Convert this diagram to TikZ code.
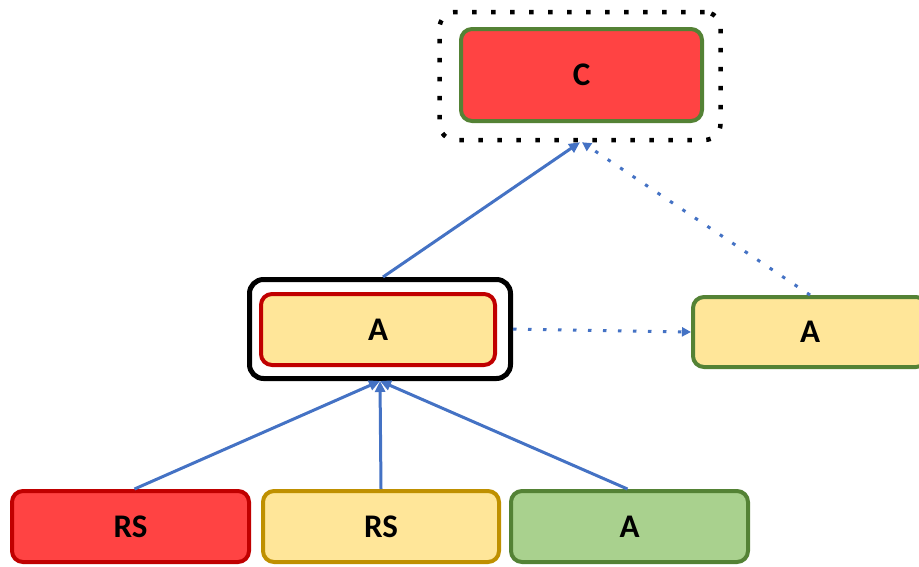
\documentclass[tikz,border=0pt]{standalone}
\usepackage{fontspec}
\setmainfont{Carlito}
\usetikzlibrary{arrows.meta}
\definecolor{cred}{HTML}{FF4343}
\definecolor{cdred}{HTML}{C00000}
\definecolor{cyel}{HTML}{FFE699}
\definecolor{cdyel}{HTML}{BF9000}
\definecolor{cgrn}{HTML}{A9D18E}
\definecolor{cdgrn}{HTML}{548235}
\definecolor{cblue}{HTML}{4472C4}
\tikzset{
  box/.style={rounded corners=11pt, line width=4pt, inner sep=0pt,
    font=\fontsize{33}{38}\selectfont\bfseries},
  conn/.style={draw=cblue, line width=3pt, -{Triangle[length=11pt,width=10pt]}},
  dconn/.style={conn, dash pattern=on 3.5pt off 11.5pt, -{Triangle[length=9pt,width=9pt]}},
}
\begin{document}
\begin{tikzpicture}[x=1pt,y=-1pt]
\useasboundingbox (0,0) rectangle (919,566);
% C
\node[box, draw=cdgrn, fill=cred, minimum width=241pt, minimum height=92pt] (C) at (581.5,75) {C};
\node[draw=black, line width=4.5pt, dash pattern=on 4.5pt off 14.5pt, rounded corners=16pt,
  minimum width=281pt, minimum height=128pt, inner sep=0pt] (Cf) at (580,76) {};
% middle
\node[draw=black, line width=5pt, rounded corners=14pt, minimum width=261pt, minimum height=99pt, inner sep=0pt] (M) at (380,329) {};
\node[box, draw=cdred, fill=cyel, minimum width=234pt, minimum height=71pt] (Mi) at (378,329.5) {A};
% right
\node[box, draw=cdgrn, fill=cyel, minimum width=234pt, minimum height=70pt] (R) at (810,332) {A};
% bottom
\node[box, draw=cdred, fill=cred, minimum width=237pt, minimum height=71pt] (B1) at (130.5,526.5) {RS};
\node[box, draw=cdyel, fill=cyel, minimum width=236pt, minimum height=71pt] (B2) at (381,526.5) {RS};
\node[box, draw=cdgrn, fill=cgrn, minimum width=237pt, minimum height=71pt] (B3) at (629.5,526.5) {A};
% connectors
\draw[conn] ([xshift=3pt]M.north) -- (Cf.south);
\draw[dconn] (R.north) -- ([xshift=2pt]Cf.south);
\draw[dconn] (M.east) -- (R.west);
\draw[conn] ([xshift=4pt]B1.north) -- (M.south);
\draw[conn] (B2.north) -- (M.south);
\draw[conn] ([xshift=-2pt]B3.north) -- (M.south);
\end{tikzpicture}
\end{document}
